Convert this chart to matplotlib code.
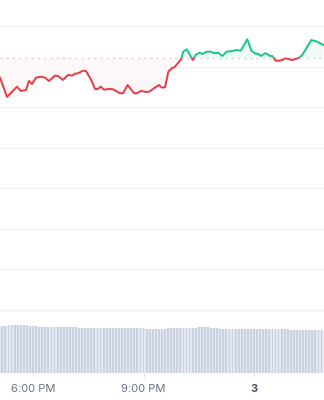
import numpy as np
import matplotlib
matplotlib.use("Agg")
import matplotlib.pyplot as plt
from matplotlib.patches import Rectangle

plt.rcParams['font.family'] = ['Inter', 'DejaVu Sans']

# price trace, minutes after 17:00
minutes = [6.2, 17.6, 33.9, 39.9, 48.6, 53.4, 58.3, 64.8, 72.5, 79.5,
           86.0, 95.8, 100.7, 108.8, 117.0, 123.5, 128.4, 133.3, 141.4, 146.3,
           156.1, 161.0, 165.9, 170.3, 175.6, 183.8, 190.3, 201.7, 206.6, 214.2,
           224.5, 229.4, 235.9, 243.6, 248.9, 258.7, 265.2, 269.6, 275.0, 280.4,
           285.9, 290.2, 296.7, 301.1, 304.8, 310.4, 315.7, 320.1, 325.0, 330.9,
           335.8, 342.9, 349.9, 355.3, 361.3, 368.4, 375.5, 384.6, 391.8, 398.3,
           409.1, 415.6, 421.1, 427.0, 431.9, 437.4, 441.7, 446.1, 449.8, 455.3,
           460.7, 466.1, 471.6, 477.0, 482.4, 487.9, 493.3, 498.7, 506.8, 513.3,
           523.1, 532.9]
price = [2.6863, 2.6625, 2.6752, 2.6699, 2.6711, 2.6822, 2.6785, 2.6863, 2.6875, 2.6863,
         2.6822, 2.6888, 2.6884, 2.6835, 2.6896, 2.6888, 2.6912, 2.6917, 2.6949, 2.6945,
         2.6814, 2.6724, 2.6724, 2.6752, 2.6715, 2.6724, 2.6720, 2.6671, 2.6671, 2.6773,
         2.6671, 2.6671, 2.6699, 2.6687, 2.6690, 2.6740, 2.6773, 2.6740, 2.6745, 2.6937,
         2.6979, 2.6991, 2.7048, 2.7090, 2.7183, 2.7213, 2.7143, 2.7081, 2.7143, 2.7171,
         2.7155, 2.7183, 2.7183, 2.7164, 2.7171, 2.7130, 2.7183, 2.7192, 2.7204, 2.7196,
         2.7336, 2.7196, 2.7164, 2.7155, 2.7130, 2.7164, 2.7155, 2.7130, 2.7130, 2.7072,
         2.7072, 2.7081, 2.7102, 2.7090, 2.7081, 2.7093, 2.7109, 2.7143, 2.7245, 2.7327,
         2.7307, 2.7266]
baseline = 2.7106

# volume (millions), one bar every 5 minutes from 17:05
vol_minutes = np.arange(5, 540, 5)
volume = [4.70, 4.70, 4.70,
          4.80, 4.80, 4.80, 4.80, 4.80, 4.80, 4.80,
          4.73, 4.73, 4.73,
          4.60, 4.60, 4.60, 4.60, 4.60, 4.60, 4.60, 4.60,
          4.63, 4.63, 4.63, 4.63, 4.63,
          4.50, 4.50, 4.50, 4.50, 4.50, 4.50, 4.50, 4.50, 4.50, 4.50, 4.50,
          4.50, 4.50, 4.50, 4.50, 4.50, 4.50, 4.50, 4.50, 4.50, 4.50, 4.50,
          4.40, 4.40, 4.40, 4.40, 4.40, 4.40, 4.40,
          4.50, 4.50, 4.50, 4.50, 4.50, 4.50, 4.50, 4.50, 4.50, 4.50,
          4.60, 4.60, 4.60, 4.60,
          4.53, 4.53, 4.53,
          4.40, 4.40, 4.40, 4.40, 4.40, 4.40, 4.40, 4.40,
          4.37, 4.37, 4.37, 4.37, 4.37, 4.37, 4.37, 4.37, 4.37, 4.37,
          4.37, 4.37, 4.37, 4.37, 4.37,
          4.33, 4.33, 4.33, 4.33, 4.33, 4.33, 4.33,
          4.30, 4.30, 4.30, 4.30, 4.30]

grid_levels = [2.40, 2.45, 2.50, 2.55, 2.60, 2.65, 2.70, 2.75]
tick_minutes = [60, 240, 420]
tick_labels = ['6:00 PM', '9:00 PM', '3']

red = '#ea3943'
green = '#16c784'

fig = plt.figure(figsize=(3.24, 4.0), dpi=100)
ax = fig.add_axes([0, 27 / 400, 1, 373 / 400])
ax.set_xlim(6.2, 534.0)
ax.set_ylim(2.3224, 2.7820)

for s in ax.spines.values():
    s.set_visible(False)
ax.set_yticks(grid_levels)
ax.yaxis.grid(True, color='#eff2f5', lw=1.0)
ax.set_axisbelow(True)
ax.tick_params(axis='y', length=0, labelleft=False)

ax.set_xticks(tick_minutes)
ax.set_xticklabels(tick_labels)
ax.tick_params(axis='x', length=3, width=0.8, color='#dfe3e8', pad=5,
               labelsize=8, labelcolor='#6b7280')
lbls = ax.get_xticklabels()
lbls[2].set_fontweight('bold')
lbls[2].set_color('#4b5563')

t = np.array(minutes)
p = np.array(price)

# area fills
ax.fill_between(t, p, baseline, where=p < baseline, interpolate=True,
                color='#fef7f7', lw=0, zorder=1)
ax.fill_between(t, p, baseline, where=p > baseline, interpolate=True,
                color='#f0fbf6', lw=0, zorder=1)

# dotted baseline
ax.axhline(baseline, color='#cfd3da', lw=1.0, ls=(0, (1.5, 3)), zorder=2)

# line split by color around baseline
big = 10
up, = ax.plot(t, p, color=green, lw=1.4, zorder=3, solid_joinstyle='round')
up.set_clip_path(Rectangle((0, baseline), 1000, big, transform=ax.transData))
dn, = ax.plot(t, p, color=red, lw=1.4, zorder=3, solid_joinstyle='round')
dn.set_clip_path(Rectangle((0, baseline - big), 1000, big, transform=ax.transData))

# volume bars
vax = ax.twinx()
vax.set_ylim(0, 37.3)
vax.set_axis_off()
vax.bar(vol_minutes, volume, width=5.0, color='#e4e8f0', lw=0)
vax.bar(vol_minutes, volume, width=3.0, color='#c9d2e1', lw=0)

fig.savefig('out.png', dpi=100)
